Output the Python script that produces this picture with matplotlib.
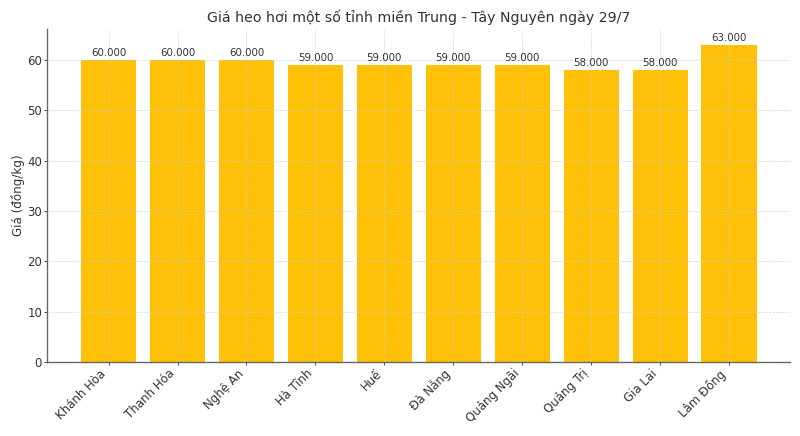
import matplotlib
matplotlib.use('Agg')
from matplotlib import pyplot as plt

provinces = ['Khánh Hòa', 'Thanh Hóa', 'Nghệ An', 'Hà Tĩnh', 'Huế',
             'Đà Nẵng', 'Quảng Ngãi', 'Quảng Trị', 'Gia Lai', 'Lâm Đồng']
prices = [60, 60, 60, 59, 59, 59, 59, 58, 58, 63]
price_labels = ['60.000', '60.000', '60.000', '59.000', '59.000',
                '59.000', '59.000', '58.000', '58.000', '63.000']

text_color = '#333333'

fig, ax = plt.subplots(figsize=(8, 4.36), dpi=100)
bars = ax.bar(provinces, prices, width=0.8, color='#FFC107', zorder=2)

for b, lab in zip(bars, price_labels):
    ax.text(b.get_x() + b.get_width() / 2, b.get_height() + 0.5, lab,
            ha='center', va='bottom', fontsize=7.4, color=text_color)

ax.set_title('Giá heo hơi một số tỉnh miền Trung - Tây Nguyên ngày 29/7',
             fontsize=10.2, color=text_color, pad=5)
ax.set_ylabel('Giá (đồng/kg)', fontsize=8.6, color=text_color, labelpad=1.5)
ax.set_ylim(0, 66.15)

ax.grid(True, linestyle='--', linewidth=0.5, color='#cccccc', alpha=0.8, zorder=3)
ax.set_axisbelow(False)
for s in ['top', 'right']:
    ax.spines[s].set_visible(False)
for s in ['left', 'bottom']:
    ax.spines[s].set_color('#666666')
    ax.spines[s].set_linewidth(1.0)

ax.tick_params(colors=text_color, labelsize=8.5, length=2.5, width=0.6, pad=1.2)
plt.setp(ax.get_xticklabels(), rotation=45, ha='right')

fig.subplots_adjust(left=0.059, right=0.988, top=0.933, bottom=0.17)
fig.savefig('out.png', dpi=100)
